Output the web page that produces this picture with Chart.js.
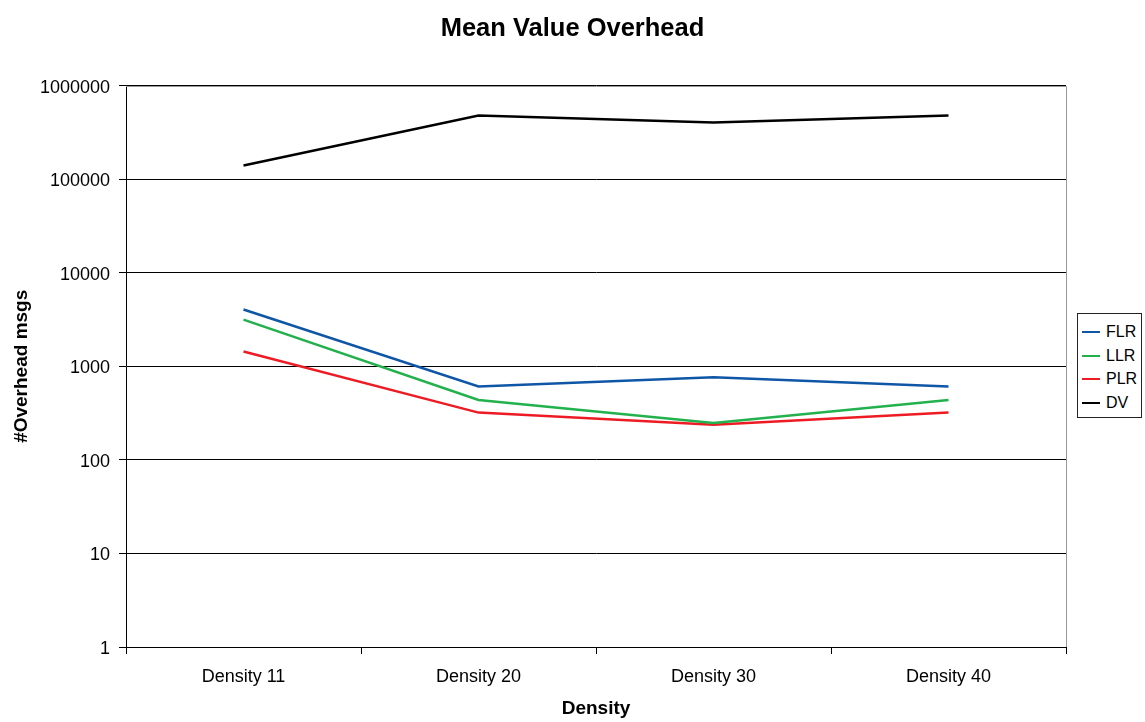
<!DOCTYPE html>
<html>
<head>
<meta charset="utf-8">
<script src="https://cdn.jsdelivr.net/npm/chart.js@4.4.1/dist/chart.umd.min.js"></script>
<style>
  html, body { margin: 0; padding: 0; background: #fff; }
  #wrap { position: relative; width: 1145px; height: 722px; }
  #legend {
    position: absolute; left: 1077px; top: 313px; width: 65px; height: 105px;
    border: 1px solid #222; box-sizing: border-box; background: #fff;
    font-family: "Liberation Sans", Arial, sans-serif; font-size: 16px; color: #000;
  }
  .item { position: absolute; left: 0; height: 20px; line-height: 20px; }
  .item span.sw { position: absolute; left: 4px; top: 9px; width: 18px; height: 2px; }
  .item span.tx { position: absolute; left: 28px; top: 0; }
</style>
</head>
<body>
<div id="wrap">
  <canvas id="c" width="1145" height="722"></canvas>
  <div id="legend"></div>
</div>
<script>
const categories = ["Density 11", "Density 20", "Density 30", "Density 40"];
const flr = [4050, 610, 765, 610];
const llr = [3150, 437, 248, 437];
const plr = [1440, 320, 238, 320];
const dv  = [140000, 480000, 403000, 478000];
const yTicks = [1, 10, 100, 1000, 10000, 100000, 1000000];
const seriesNames = ["FLR", "LLR", "PLR", "DV"];
const seriesColors = ["#0f56a6", "#22b14c", "#ed1c24", "#000000"];

const seriesData = [flr, llr, plr, dv];

// HTML legend
const legend = document.getElementById('legend');
seriesNames.forEach((n, i) => {
  const d = document.createElement('div');
  d.className = 'item';
  d.style.top = (8 + i * 23.5) + 'px';
  d.innerHTML = '<span class="sw" style="background:' + seriesColors[i] + '"></span><span class="tx">' + n + '</span>';
  legend.appendChild(d);
});

const frame = {
  id: 'frame',
  afterDraw(chart) {
    const a = chart.chartArea, ctx = chart.ctx;
    ctx.save();
    ctx.strokeStyle = '#999';
    ctx.lineWidth = 1;
    ctx.beginPath();
    ctx.moveTo(a.left, Math.round(a.top) + 0.5);
    ctx.lineTo(Math.round(a.right) + 0.5, Math.round(a.top) + 0.5);
    ctx.lineTo(Math.round(a.right) + 0.5, a.bottom);
    ctx.stroke();
    ctx.restore();
  }
};

const FONT = '"Liberation Sans", Arial, sans-serif';

new Chart(document.getElementById('c'), {
  type: 'line',
  data: {
    labels: categories,
    datasets: seriesNames.map((n, i) => ({
      label: n,
      data: seriesData[i],
      borderColor: seriesColors[i],
      backgroundColor: seriesColors[i],
      borderWidth: 2.5,
      pointRadius: 0,
      tension: 0,
      fill: false,
      yAxisID: 'y'
    }))
  },
  options: {
    responsive: false,
    animation: false,
    layout: { padding: { left: 0, right: 0, top: 0, bottom: 0 } },
    plugins: {
      legend: { display: false },
      tooltip: { enabled: false },
      title: {
        display: true,
        text: 'Mean Value Overhead',
        color: '#000',
        font: { family: FONT, size: 25.5, weight: 'bold' },
        padding: { top: 14, bottom: 41 }
      }
    },
    scales: {
      x: {
        type: 'category',
        offset: true,
        grid: { display: true, offset: true, drawOnChartArea: false, drawTicks: true, tickLength: 7, color: '#000' },
        border: { display: true, color: '#000', width: 1 },
        ticks: {
          color: '#000', padding: 12, maxRotation: 0,
          font: { family: FONT, size: 18 }
        },
        title: {
          display: true, text: 'Density', color: '#000',
          font: { family: FONT, size: 19, weight: 'bold' },
          padding: { top: 4, bottom: 2 }
        },
        afterFit(scale) { scale.height = 75; }
      },
      y: {
        type: 'logarithmic',
        position: 'left',
        min: 1, max: 1000000,
        grid: { display: true, color: '#000', drawTicks: true, tickLength: 7, lineWidth: 1 },
        border: { display: true, color: '#000', width: 1 },
        afterBuildTicks(scale) { scale.ticks = yTicks.map(v => ({ value: v })); },
        ticks: {
          color: '#000', padding: 9, labelOffset: 2,
          font: { family: FONT, size: 18 },
          callback: (v) => String(v)
        },
        title: {
          display: true, text: '#Overhead msgs', color: '#000',
          font: { family: FONT, size: 19, weight: 'bold' },
          padding: { top: 10, bottom: 0 }
        },
        afterFit(scale) { scale.width = 126; }
      },
      yr: {
        type: 'linear',
        position: 'right',
        display: true,
        grid: { display: false, drawOnChartArea: false },
        border: { display: false },
        ticks: { display: false },
        afterFit(scale) { scale.width = 79; }
      }
    }
  },
  plugins: [frame]
});
</script>
</body>
</html>
